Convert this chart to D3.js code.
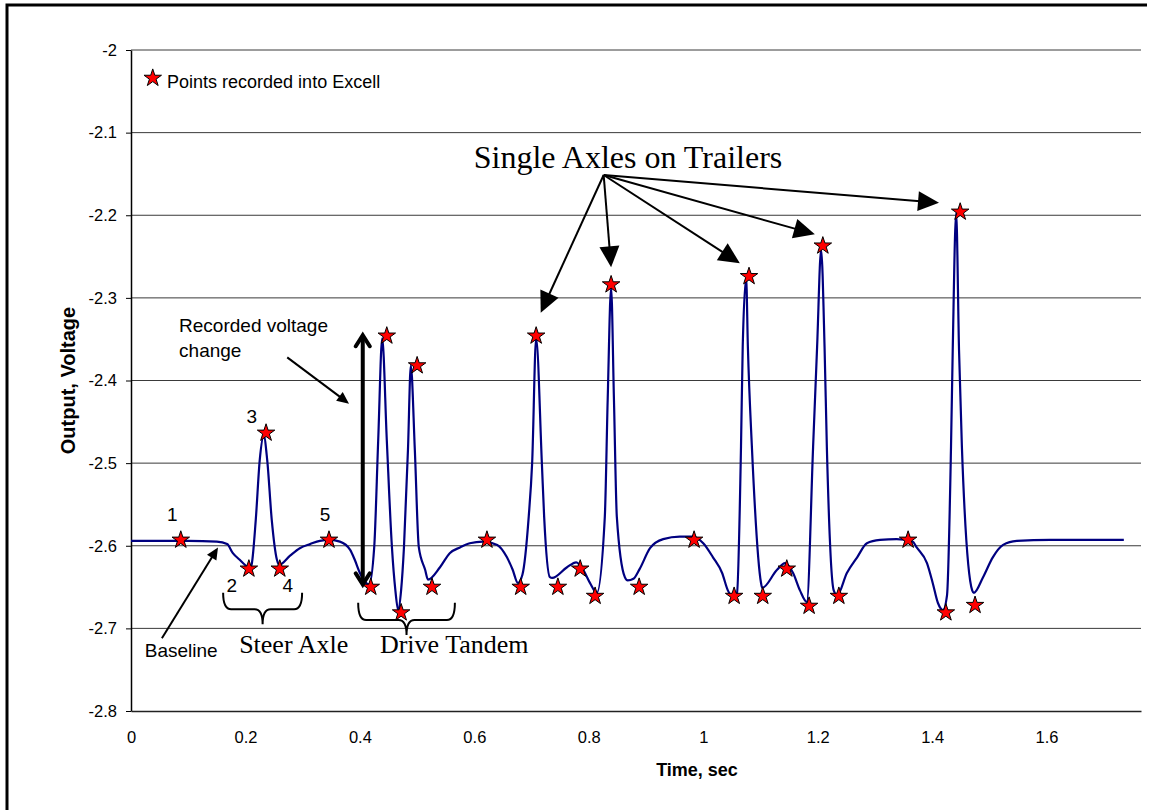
<!DOCTYPE html>
<html>
<head>
<meta charset="utf-8">
<script src="https://cdn.jsdelivr.net/npm/d3@7"></script>
<style>
  body { margin: 0; background: #fff; }
  svg { display: block; font-family: "Liberation Sans", Arial, sans-serif; }
</style>
</head>
<body>
<svg id="chart"></svg>
<script>
(function () {

  'strict';

  // Sensor trace (time in sec, output in volts)
  var traceTime = [0, 0.05, 0.10, 0.150, 0.168, 0.178, 0.190, 0.199, 0.208, 0.211,
    0.218, 0.225, 0.232, 0.238, 0.246, 0.255, 0.259, 0.278, 0.295, 0.313,
    0.330, 0.348, 0.365, 0.383, 0.391, 0.400, 0.409, 0.416, 0.425, 0.432,
    0.439, 0.447, 0.456, 0.462, 0.467, 0.472, 0.477, 0.484, 0.489, 0.496,
    0.503, 0.514, 0.519, 0.540, 0.557, 0.575, 0.592, 0.615, 0.640, 0.657,
    0.667, 0.676, 0.684, 0.695, 0.701, 0.708, 0.718, 0.722, 0.732, 0.736,
    0.762, 0.778, 0.790, 0.802, 0.814, 0.828, 0.833, 0.839, 0.844, 0.849,
    0.863, 0.868, 0.878, 0.889, 0.907, 0.930, 0.959, 0.982, 1.000, 1.017, 1.033,
    1.043, 1.052, 1.059, 1.066, 1.069, 1.075, 1.078, 1.085, 1.101, 1.103,
    1.129, 1.143, 1.157, 1.169, 1.181, 1.192, 1.199, 1.206, 1.212, 1.216,
    1.228, 1.234, 1.251, 1.269, 1.286, 1.309, 1.338, 1.366, 1.373, 1.391,
    1.401, 1.410, 1.419, 1.426, 1.433, 1.436, 1.442, 1.447, 1.452, 1.470,
    1.473, 1.489, 1.506, 1.524, 1.548, 1.606, 1.663, 1.735];

  var traceVolt = [-2.594, -2.594, -2.594, -2.595, -2.598, -2.609, -2.617, -2.623, -2.627, -2.622,
    -2.569, -2.496, -2.467, -2.496, -2.569, -2.617, -2.623, -2.612, -2.603, -2.598,
    -2.594, -2.593, -2.595, -2.605, -2.617, -2.633, -2.644, -2.647, -2.602, -2.472,
    -2.349, -2.472, -2.602, -2.654, -2.678, -2.654, -2.602, -2.484, -2.382, -2.484,
    -2.602, -2.629, -2.641, -2.626, -2.609, -2.602, -2.597, -2.595, -2.599, -2.614,
    -2.629, -2.645, -2.635, -2.565, -2.500, -2.349, -2.500, -2.565, -2.638, -2.639,
    -2.626, -2.620, -2.629, -2.645, -2.657, -2.565, -2.424, -2.288, -2.424, -2.565,
    -2.638, -2.642, -2.640, -2.628, -2.603, -2.592, -2.589, -2.589, -2.597, -2.614, -2.633,
    -2.654, -2.662, -2.657, -2.480, -2.359, -2.276, -2.359, -2.480, -2.645, -2.651,
    -2.629, -2.621, -2.633, -2.654, -2.668, -2.480, -2.359, -2.242, -2.359, -2.480,
    -2.654, -2.660, -2.633, -2.614, -2.597, -2.593, -2.592, -2.595, -2.602, -2.621,
    -2.645, -2.669, -2.678, -2.660, -2.480, -2.363, -2.197, -2.363, -2.480, -2.654,
    -2.657, -2.638, -2.614, -2.599, -2.594, -2.593, -2.593, -2.593];

  // Points recorded into the spreadsheet
  var pointTime = [0.087, 0.206, 0.236, 0.260, 0.346, 0.419, 0.447, 0.472, 0.500, 0.526,
    0.622, 0.681, 0.708, 0.746, 0.785, 0.811, 0.839, 0.888, 0.984, 1.054,
    1.080, 1.104, 1.146, 1.185, 1.209, 1.237, 1.358, 1.424, 1.449, 1.475];

  var pointVolt = [-2.593, -2.628, -2.4635, -2.628, -2.593, -2.650, -2.346, -2.681, -2.382, -2.650,
    -2.593, -2.650, -2.346, -2.650, -2.628, -2.661, -2.284, -2.650, -2.593, -2.661,
    -2.274, -2.661, -2.628, -2.673, -2.237, -2.661, -2.593, -2.681, -2.196, -2.672];

  // Numbers written next to the steer axle points
  var stepLabels = ['1', '2', '3', '4', '5'];

  var xTicks = [0, 0.2, 0.4, 0.6, 0.8, 1, 1.2, 1.4, 1.6];
  var yTicks = [-2, -2.1, -2.2, -2.3, -2.4, -2.5, -2.6, -2.7, -2.8];

  // Settings
  var width = 1154;
  var height = 810;

  var margin = {
    top: 50,
    right: 13,
    bottom: 99,
    left: 131
  };

  var plotW = width - margin.left - margin.right;
  var plotH = height - margin.top - margin.bottom;

  var serif = '"Liberation Serif", "Times New Roman", serif';

  var svg = d3.select('#chart')
      .attr('width', width)
      .attr('height', height);

  // Outer chart frame (only top and left edges are visible)
  svg.append('path')
      .attr('d', 'M7,810V5H1147')
      .attr('fill', 'none')
      .attr('stroke', '#000')
      .attr('stroke-width', 3);

  var g = svg.append('g')
      .attr('transform', 'translate(' + margin.left + ',' + margin.top + ')');

  var x = d3.scaleLinear()
      .domain([0, 1.765])
      .range([0, plotW]);

  var y = d3.scaleLinear()
      .domain([-2.8, -2])
      .range([plotH, 0]);

  // Gridlines
  g.append('g')
    .selectAll('line')
      .data(yTicks.slice(0, -1))
      .enter()
    .append('line')
      .attr('x1', 0)
      .attr('x2', plotW)
      .attr('y1', function (d) { return y(d); })
      .attr('y2', function (d) { return y(d); })
      .attr('stroke', '#3a3a3a')
      .attr('stroke-width', 1);

  var yAxis = d3.axisLeft(y)
      .tickValues(yTicks)
      .tickSize(5)
      .tickSizeOuter(0)
      .tickPadding(9)
      .tickFormat(String);

  var xAxis = d3.axisBottom(x)
      .tickValues(xTicks)
      .tickSize(0)
      .tickSizeOuter(0)
      .tickPadding(20)
      .tickFormat(String);

  var gx = g.append('g')
      .attr('transform', 'translate(0,' + plotH + ')')
      .call(xAxis);

  gx.select('.domain')
      .attr('stroke', '#222')
      .attr('stroke-width', 1.5);

  var gy = g.append('g')
      .call(yAxis);

  gy.select('.domain')
      .attr('stroke', '#000')
      .attr('stroke-width', 1.5);

  [gx, gy].forEach(function (ax) {
    ax.attr('font-family', null).attr('font-size', null);
    ax.selectAll('text')
        .attr('font-size', 16.5)
        .attr('fill', '#000');
  });

  // Axis titles
  svg.append('text')
      .attr('x', 697)
      .attr('y', 776)
      .attr('text-anchor', 'middle')
      .attr('font-size', 18)
      .attr('font-weight', 'bold')
      .text('Time, sec');

  svg.append('text')
      .attr('transform', 'translate(68,' + (margin.top + plotH / 2) + ') rotate(-90)')
      .attr('text-anchor', 'middle')
      .attr('dy', '0.35em')
      .attr('font-size', 20)
      .attr('font-weight', 'bold')
      .text('Output, Voltage');

  // Trace
  var trace = traceTime.map(function (t, i) { return [t, traceVolt[i]]; });

  var line = d3.line()
      .x(function (d) { return x(d[0]); })
      .y(function (d) { return y(d[1]); })
      .curve(d3.curveMonotoneX);

  g.append('path')
      .datum(trace)
      .attr('fill', 'none')
      .attr('stroke', '#000080')
      .attr('stroke-width', 2.2)
      .attr('stroke-linejoin', 'round')
      .attr('d', line);

  // Recorded points
  var star = d3.symbol().type(d3.symbolStar).size(95);

  g.append('g')
    .selectAll('path')
      .data(pointTime)
      .enter()
    .append('path')
      .attr('d', star)
      .attr('transform', function (t, i) {
        return 'translate(' + x(t) + ',' + y(pointVolt[i]) + ')';
      })
      .attr('fill', '#ff0000')
      .attr('stroke', '#000')
      .attr('stroke-width', 1);

  // Legend
  g.append('path')
      .attr('d', star)
      .attr('transform', 'translate(' + x(0.038) + ',' + y(-2.034) + ')')
      .attr('fill', '#ff0000')
      .attr('stroke', '#000')
      .attr('stroke-width', 1);

  g.append('text')
      .attr('x', x(0.063))
      .attr('y', y(-2.046))
      .attr('font-size', 18)
      .text('Points recorded into Excell');

  // Annotations
  var notes = g.append('g');

  var labelPos = [[0.072, -2.570], [0.176, -2.656], [0.211, -2.451], [0.274, -2.656], [0.339, -2.570]];

  notes.selectAll('text.step')
      .data(stepLabels)
      .enter()
    .append('text')
      .attr('class', 'step')
      .attr('x', function (d, i) { return x(labelPos[i][0]); })
      .attr('y', function (d, i) { return y(labelPos[i][1]); })
      .attr('text-anchor', 'middle')
      .attr('font-size', 19)
      .text(function (d) { return d; });

  notes.append('text')
      .attr('x', x(0.599))
      .attr('y', y(-2.1428))
      .attr('font-family', serif)
      .attr('font-size', 32)
      .text('Single Axles on Trailers');

  var origin = [x(0.826), y(-2.1513)];
  [[0.716, -2.318], [0.839, -2.263], [1.064, -2.258], [1.195, -2.223], [1.412, -2.185]]
    .forEach(function (p) {
      arrow(notes, origin, [x(p[0]), y(p[1])], 21, 10, 2);
    });

  notes.append('text')
      .attr('x', x(0.084))
      .attr('y', y(-2.341))
      .attr('font-size', 19)
      .text('Recorded voltage');

  notes.append('text')
      .attr('x', x(0.084))
      .attr('y', y(-2.372))
      .attr('font-size', 19)
      .text('change');

  arrow(notes, [x(0.273), y(-2.372)], [x(0.381), y(-2.428)], 12, 5.5, 2);

  doubleArrow(notes, x(0.405), y(-2.344), y(-2.648));

  notes.append('text')
      .attr('x', x(0.024))
      .attr('y', y(-2.735))
      .attr('font-size', 19)
      .text('Baseline');

  arrow(notes, [x(0.054), y(-2.712)], [x(0.152), y(-2.602)], 12, 5.5, 2);

  brace(notes, x(0.161), x(0.299), y(-2.657), y(-2.677), y(-2.695));
  brace(notes, x(0.397), x(0.566), y(-2.669), y(-2.690), y(-2.708));

  notes.append('text')
      .attr('x', x(0.189))
      .attr('y', y(-2.730))
      .attr('font-family', serif)
      .attr('font-size', 26)
      .text('Steer Axle');

  notes.append('text')
      .attr('x', x(0.435))
      .attr('y', y(-2.730))
      .attr('font-family', serif)
      .attr('font-size', 26)
      .text('Drive Tandem');

  function arrow(sel, p0, p1, len, half, sw) {

    var dx = p1[0] - p0[0];
    var dy = p1[1] - p0[1];
    var d = Math.sqrt(dx * dx + dy * dy);
    var ux = dx / d;
    var uy = dy / d;
    var bx = p1[0] - ux * len;
    var by = p1[1] - uy * len;

    sel.append('line')
        .attr('x1', p0[0])
        .attr('y1', p0[1])
        .attr('x2', bx + ux * 2)
        .attr('y2', by + uy * 2)
        .attr('stroke', '#000')
        .attr('stroke-width', sw);

    sel.append('path')
        .attr('d', 'M' + p1[0] + ',' + p1[1] +
          'L' + (bx - uy * half) + ',' + (by + ux * half) +
          'L' + (bx + uy * half) + ',' + (by - ux * half) + 'Z')
        .attr('fill', '#000');
  }

  function doubleArrow(sel, px, top, bottom) {

    sel.append('line')
        .attr('x1', px)
        .attr('x2', px)
        .attr('y1', top + 2)
        .attr('y2', bottom - 2)
        .attr('stroke', '#000')
        .attr('stroke-width', 4);

    sel.append('path')
        .attr('d', 'M' + (px - 7) + ',' + (top + 12) + 'L' + px + ',' + (top + 1) + 'L' + (px + 7) + ',' + (top + 12) +
          'M' + (px - 7) + ',' + (bottom - 12) + 'L' + px + ',' + (bottom - 1) + 'L' + (px + 7) + ',' + (bottom - 12))
        .attr('fill', 'none')
        .attr('stroke', '#000')
        .attr('stroke-width', 4)
        .attr('stroke-linecap', 'round');
  }

  function brace(sel, x0, x1, top, bar, tip) {

    var cx = (x0 + x1) / 2;
    var r = 8;
    var p = d3.path();

    p.moveTo(x0, top);
    p.quadraticCurveTo(x0, bar, x0 + r, bar);
    p.lineTo(cx - r, bar);
    p.quadraticCurveTo(cx, bar, cx, tip);
    p.quadraticCurveTo(cx, bar, cx + r, bar);
    p.lineTo(x1 - r, bar);
    p.quadraticCurveTo(x1, bar, x1, top);

    sel.append('path')
        .attr('d', p.toString())
        .attr('fill', 'none')
        .attr('stroke', '#000')
        .attr('stroke-width', 2);
  }
})();
</script>
</body>
</html>
